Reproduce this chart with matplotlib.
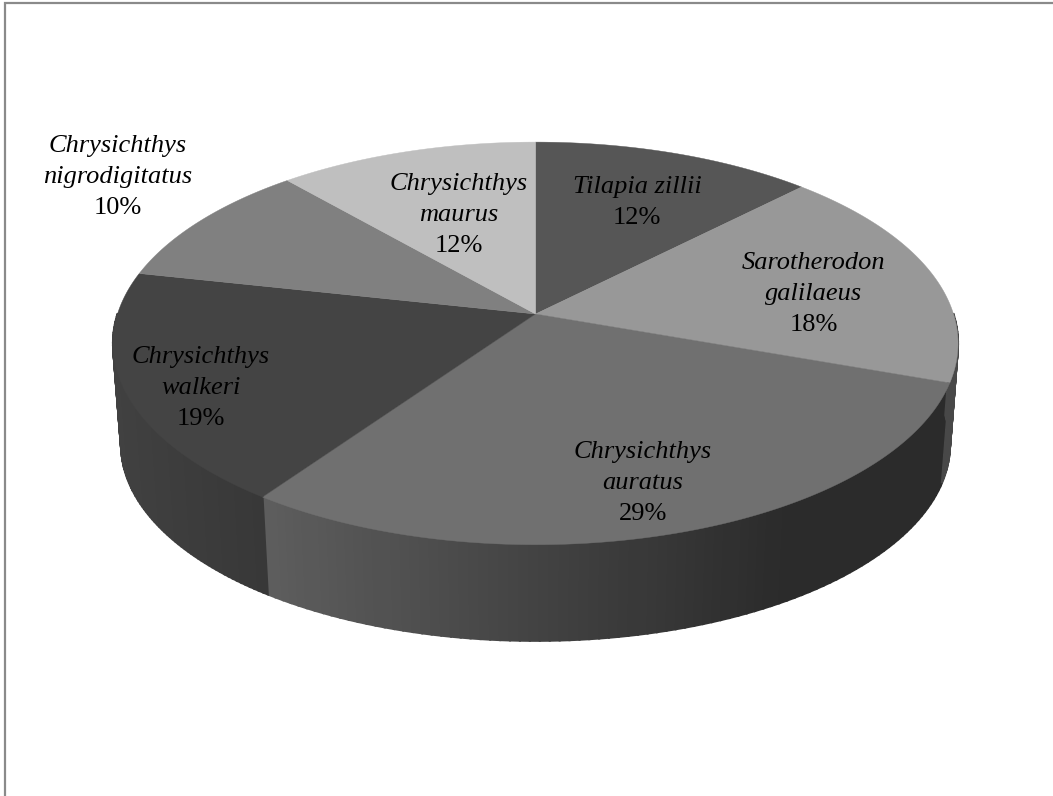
import numpy as np
import matplotlib
matplotlib.use("Agg")
import matplotlib.pyplot as plt
from matplotlib.colors import to_rgb

# Дані діаграми
species = ["Tilapia zillii", "Sarotherodon\ngalilaeus", "Chrysichthys\nauratus",
           "Chrysichthys\nwalkeri", "Chrysichthys\nnigrodigitatus", "Chrysichthys\nmaurus"]
percents = [12, 18, 29, 19, 10, 12]
# Частки, зчитані з кутів секторів на малюнку
shares = [12.4, 18.0, 29.35, 18.65, 10.15, 11.45]

# Кольори
top_colors = ["#565656", "#989898", "#707070", "#444444", "#808080", "#bfbfbf"]
side_colors = [("#444444", "#444444"), ("#484848", "#404040"), ("#5e5e5e", "#2b2b2b"),
               ("#414141", "#383838"), ("#555555", "#555555"), ("#777777", "#777777")]
# Центр по x і базова лінія першого рядка підпису
label_pos = [(637, 193), (814, 269), (643, 458), (201, 363), (118, 152), (459, 190)]

LINE_H = 30.8
CX, CY, RX, RY, K = 535.5, 314, 418, 197, 0.146
CY2, RX2, RY2 = 416, 410, 192


def project(t, cy, rx, ry):
    # перспективна проекція кола
    w = 1 + K * np.sin(t)
    return CX + rx * np.cos(t) / w, cy - ry * np.sin(t) / w


fig = plt.figure(figsize=(10.53, 7.96), dpi=100)
ax = fig.add_axes([0, 0, 1, 1])
ax.set_xlim(0, 1053)
ax.set_ylim(796, 0)
ax.axis("off")

# Рамка: зверху і зліва
ax.plot([5, 5, 1053], [796, 3, 3], color="#8a8a8a", linewidth=1.6, solid_joinstyle="miter")

edges = np.pi / 2 - 2 * np.pi * np.cumsum([0] + shares) / sum(shares)

# Бічна поверхня
for i in range(len(shares)):
    ts = np.linspace(edges[i], edges[i + 1], 90)
    xs, ys = project(ts, CY, RX, RY)
    xb, yb = project(ts, CY2, RX2, RY2)
    front = np.sin(ts) < 0.0
    if not front.any():
        continue
    c0 = np.array(to_rgb(side_colors[i][0]))
    c1 = np.array(to_rgb(side_colors[i][1]))
    x_front = xs[front]
    x_lo, x_hi = x_front.min(), min(x_front.max(), 790)
    for j in range(len(ts) - 1):
        if not (front[j] or front[j + 1]):
            continue
        f = np.clip((xs[j] - x_lo) / (x_hi - x_lo), 0, 1)
        col = c0 + (c1 - c0) * f
        ax.fill([xs[j], xs[j + 1], xb[j + 1], xb[j]], [ys[j], ys[j + 1], yb[j + 1], yb[j]],
                color=col, linewidth=1.5, zorder=2 + j * 1e-3 * (1 if xs[1] > xs[0] else -1))

# Верхня поверхня
for i in range(len(shares)):
    ts = np.linspace(edges[i], edges[i + 1], 200)
    xs, ys = project(ts, CY, RX, RY)
    ax.fill(np.r_[CX, xs], np.r_[CY, ys], color=top_colors[i], linewidth=0.3, zorder=3)

# Підписи
for name, pct, (lx, ly) in zip(species, percents, label_pos):
    n = name.count("\n") + 1
    for k, line in enumerate(name.split("\n")):
        ax.text(lx, ly + k * LINE_H, line, family="Liberation Serif", style="italic", fontsize=19,
                ha="center", va="baseline", color="black", zorder=5)
    ax.text(lx, ly + n * LINE_H, f"{pct}%", family="Liberation Serif", fontsize=19,
            ha="center", va="baseline", color="black", zorder=5)

fig.savefig("out.png", dpi=100, facecolor="white")
